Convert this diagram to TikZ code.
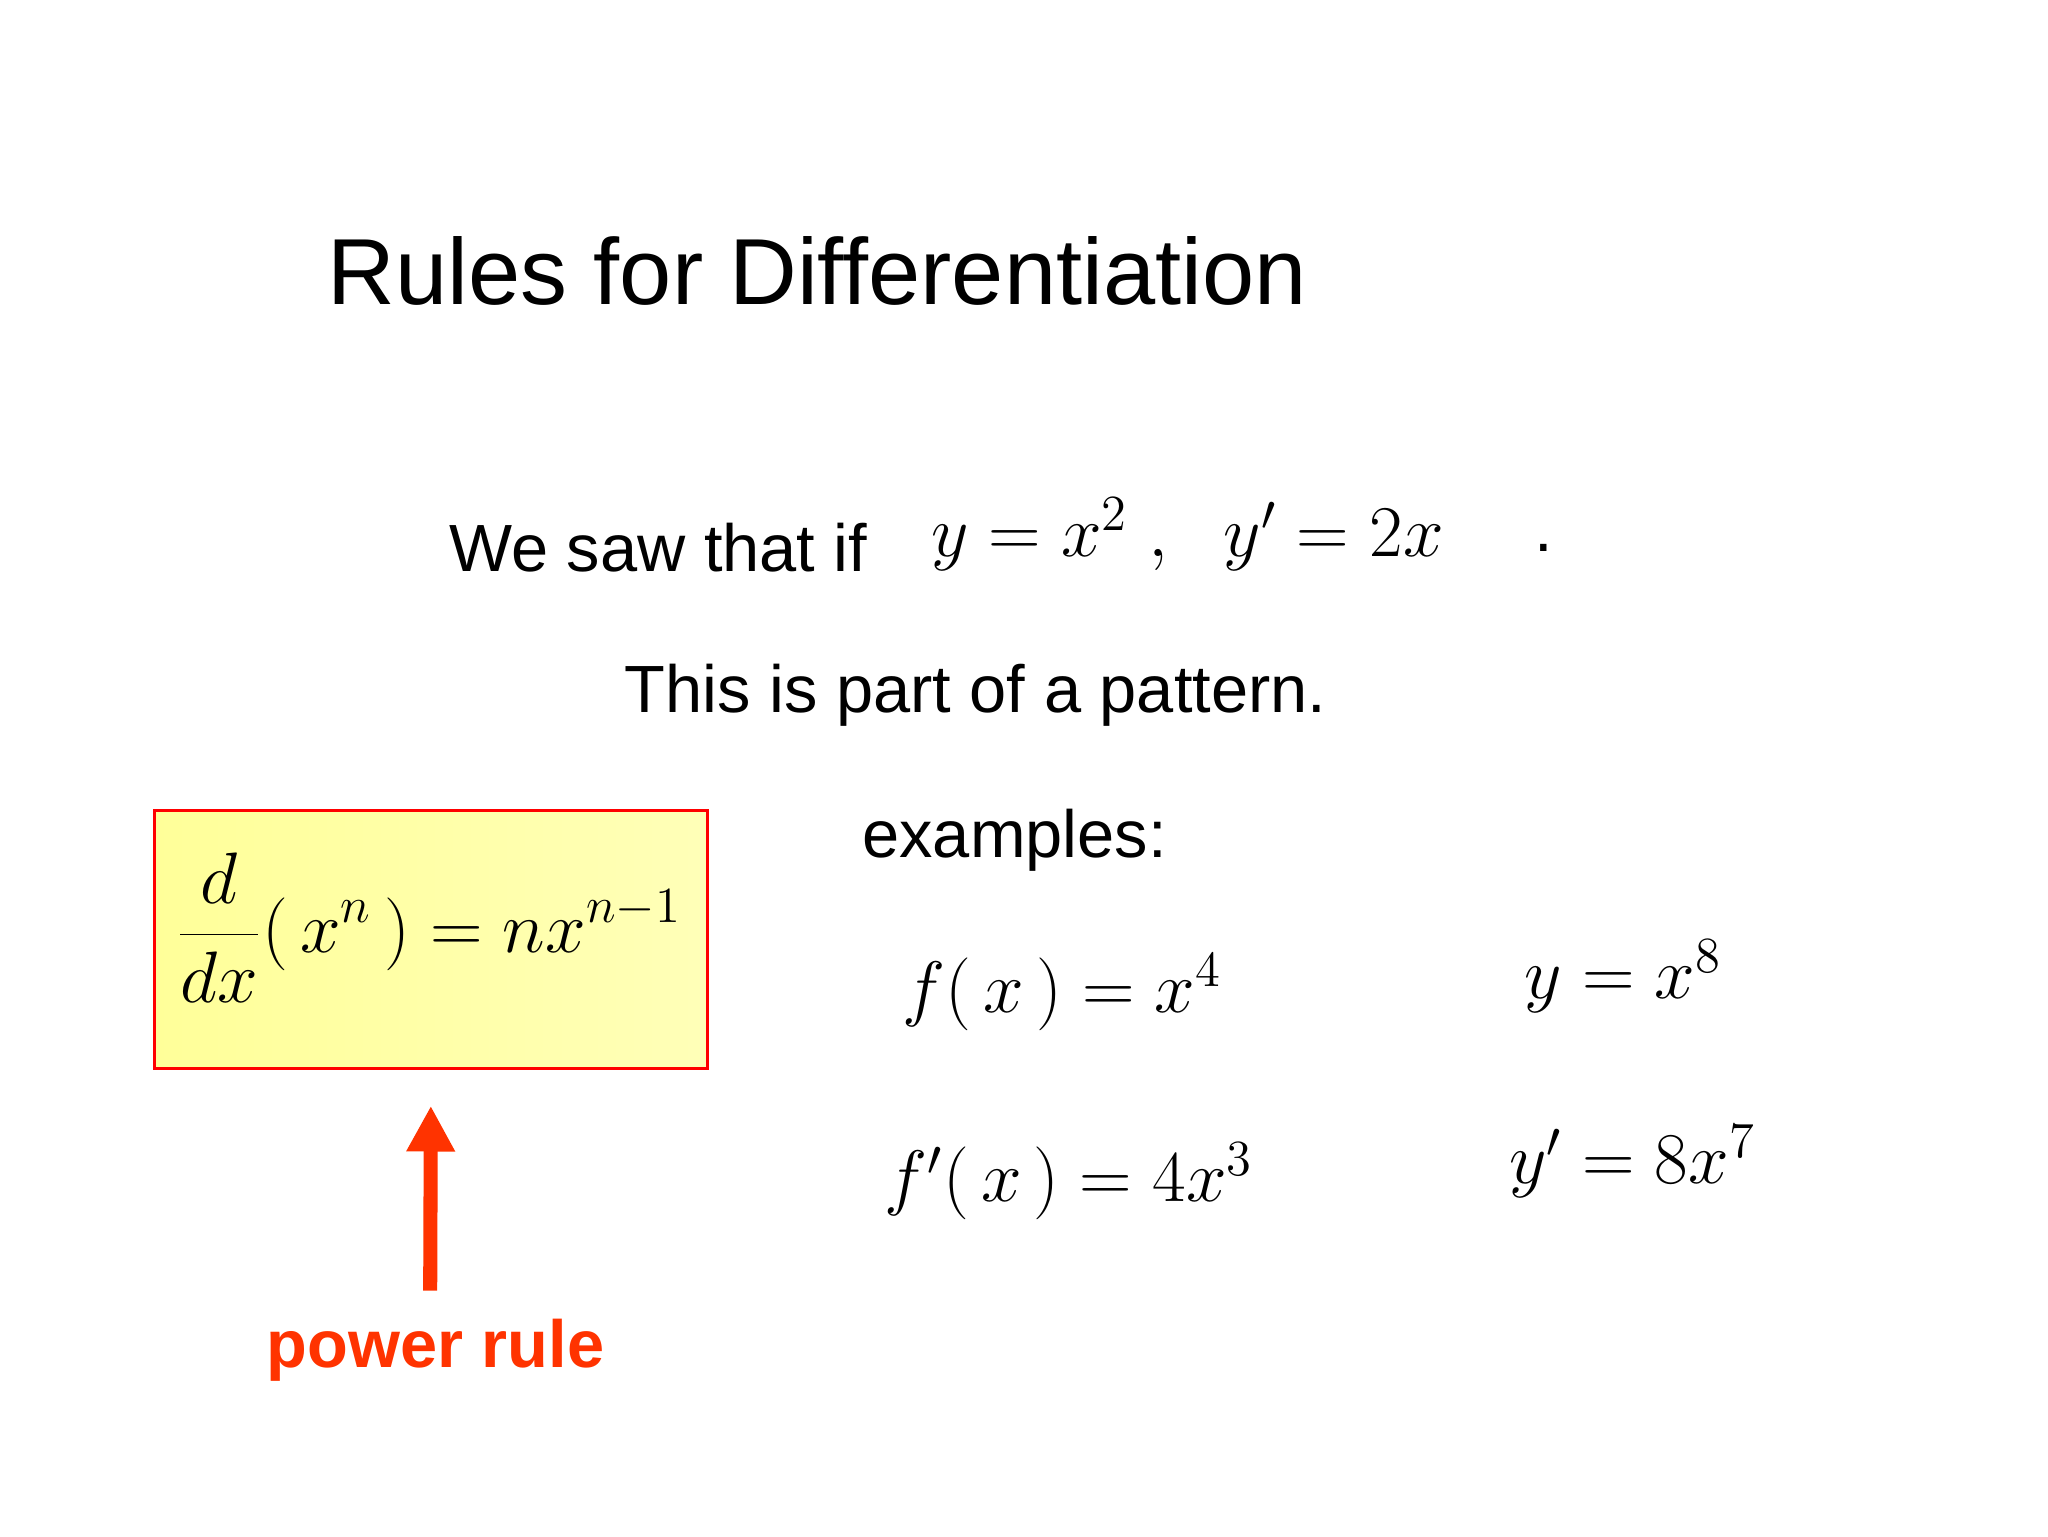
\documentclass[tikz,border=0pt]{standalone}
\usepackage{fontspec}
\setmainfont{Liberation Sans}
\usetikzlibrary{arrows.meta}
\definecolor{pr}{HTML}{FF3300}
\definecolor{boxy}{HTML}{FFFF99}
\tikzset{txt/.style={inner sep=0pt,anchor=west,font=\fontsize{19}{23}\selectfont},
 eq/.style={inner sep=0pt,font=\fontsize{21}{26}\selectfont}}
\begin{document}
\begin{tikzpicture}[x=0.013196cm,y=-0.013196cm]
\useasboundingbox (0,0) rectangle (1552,1164);
\node[txt,font=\fontsize{26.7}{32}\selectfont] (title) at (248,205) {Rules for Differentiation};
\node[txt] (saw) at (340,415) {We saw that if};
\node[eq,anchor=west,font=\fontsize{22}{26}\selectfont] (e1) at (705,405) {$y=x^2\;,\ \ y'=2x$};
\node[txt] (dot) at (1162,415) {.};
\node[txt] (pat) at (473,527) {This is part of a pattern.};
\node[draw=red,thick,left color=boxy,right color=boxy!70!white,minimum width=419*0.013196cm,minimum height=196*0.013196cm,inner sep=0pt] (box) at (326.5,712) {};
\node[eq,font=\fontsize{20}{24}\selectfont] (rule) at (325,703) {$\displaystyle\frac{d}{dx}\bigl(\,x^n\,\bigr)=nx^{n-1}$};
\coordinate (at) at (326,978);
\draw[pr,line width=4pt,-{Triangle[length=13pt,width=13pt]}] (at) -- (box.south |- 0,838);
\node[inner sep=0pt,text=pr,font=\fontsize{19}{23}\selectfont\bfseries] (pw) at (330,1023) {power rule};
\node[txt] (ex) at (653,637) {examples:};
\node[eq] (f1) at (805,752) {$f\bigl(\,x\,\bigr)=x^4$};
\node[eq] (f2) at (810,895) {$f'\bigl(\,x\,\bigr)=4x^3$};
\node[eq] (y1) at (1230,740) {$y=x^8$};
\node[eq] (y2) at (1237,880) {$y'=8x^7$};
\end{tikzpicture}
\end{document}
